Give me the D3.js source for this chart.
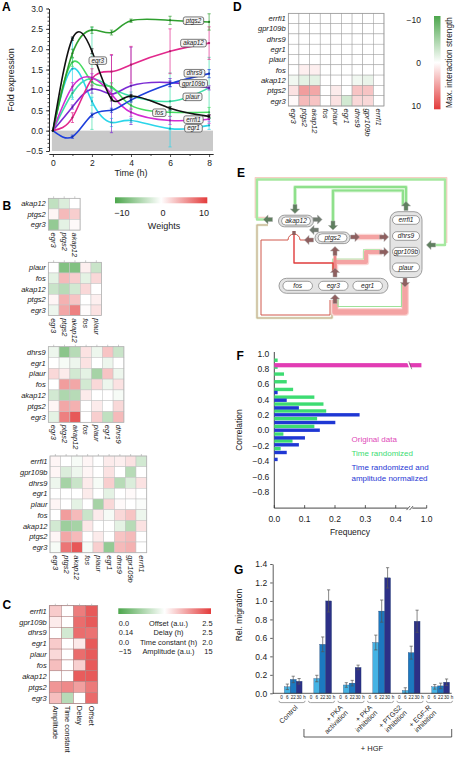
<!DOCTYPE html>
<html><head><meta charset="utf-8">
<script src="https://cdn.jsdelivr.net/npm/d3@7"></script>
<style>
body{margin:0;background:#fff}
text{font-family:"Liberation Sans",Arial,Helvetica,sans-serif;fill:#1a1a1a}
</style>
</head><body>
<svg id="fig" width="456" height="761" xmlns="http://www.w3.org/2000/svg"></svg>
<script>
// ================= DATA =================
// Panel A: fold expression time courses
const timesA = [0,1,2,3,4,6,8];
const genesA = ["egr3","ptgs2","akap12","dhrs9","gpr109b","plaur","errfi1","fos","egr1"];
const colorsA = ["#111111","#2f9f2f","#e2288c","#1d3fdc","#7b2bd4","#3fe0aa","#46dc62","#d22cd2","#2bd5ea"];
const egr3A    = [0,2.26,1.95,0.78,0.85,0.55,0.35];
const ptgs2A   = [0,1.90,2.47,2.41,2.70,2.71,2.67];
const akap12A  = [0,0.32,1.27,1.45,1.62,1.95,2.15];
const dhrs9A   = [0,-0.15,0.38,0.50,0.75,1.15,1.40];
const gpr109bA = [0,0.58,1.02,0.90,1.10,1.18,1.05];
const plaurA   = [0,0.92,1.28,1.05,0.85,0.72,1.05];
const errfi1A  = [0,1.68,1.20,1.08,0.62,0.45,0.45];
const fosA     = [0,1.08,1.30,0.90,0.45,0.25,0.28];
const egr1A    = [0,1.52,0.72,0.20,0.25,0.05,0.13];
const egr3ErrA    = [0,0.04,0.06,0.05,0.04,0.04,0.04];
const ptgs2ErrA   = [0,0.10,0.08,0.06,0.04,0.10,0.20];
const akap12ErrA  = [0,0.12,0.25,0.42,0.45,0.55,0.40];
const dhrs9ErrA   = [0,0.04,0.05,0.05,0.05,0.07,0.10];
const gpr109bErrA = [0,0.05,0.10,0.95,0.95,0.10,0.05];
const plaurErrA   = [0,0.10,1.25,0.10,0.10,0.70,0.75];
const errfi1ErrA  = [0,0.10,0.10,0.10,0.10,0.10,0.12];
const fosErrA     = [0,0.10,0.10,0.10,0.10,0.10,0.10];
const egr1ErrA    = [0,0.75,0.10,0.10,0.05,0.45,0.10];
const labelsA = [["ptgs2",7.2,2.70],["akap12",7.2,2.15],["egr3",2.3,1.72],["dhrs9",7.25,1.41],
                 ["gpr109b",7.2,1.16],["plaur",7.15,0.83],["fos",5.45,0.44],["errfi1",7.2,0.27],["egr1",7.2,0.06]];

// Panel B: weight matrices
const genesB1 = ["egr3","ptgs2","akap12"];
const weightsB1 = [[-3.5,-2,0],[0.5,3.5,2.5],[-6,-1.5,0.3]]; // rows: akap12, ptgs2, egr3
const genesB2 = ["egr3","ptgs2","akap12","fos","plaur"];
const weightsB2 = [[0,-7,-7,0.8,-3],[-1.5,3.5,2.5,-1.5,2],[-3,-4,-2.5,2,0],[0.5,4,3,0,0.8],[-1,4.5,6.5,0.2,1.5]];
const genesB3 = ["egr3","ptgs2","akap12","fos","plaur","egr1","dhrs9"];
const weightsB3 = [[-1,-6.5,-4,1.5,-1,3,-3],[0,-0.5,-1,1.5,0,-1,0],[2,1,-2.5,-1.5,-5,3,-1],
                   [0,5,4.5,-2.5,2,-1,1.5],[-2.5,-4.5,-4,1,0,0,-0.5],[0.5,4.5,4,0,1,0,2],[-1.5,6.5,8.5,0,2.5,-3.5,3.5]];
const genesB4 = ["egr3","ptgs2","akap12","fos","plaur","egr1","dhrs9","gpr109b","errfi1"];
const weightsB4 = [[0.5,0,-0.5,0.5,0,1,0.8,1.5,-2.5],[0.5,-2,-1,0.5,0,1.5,0,-4,0],[-1,-5,-3,1,-0.5,2.5,-4,-2,1.5],
                   [0,0,0,1,0,-1.5,0,0.3,0],[0.5,0,-1.5,0,-5,2,0.3,0,-0.3],[0,5,3.5,-3,1,-0.5,2,3,-1],
                   [-2.5,-5.5,-5,1.2,0,0,-1.5,-4,1.5],[0.5,4.5,3.5,0,1,0,3,3.5,0],[-0.5,7,8.5,-0.5,2.5,-6,3.5,4,0]];
const weightTicks = [-10,0,10];

// Panel C: parameters
const paramsC = ["Amplitude","Time constant","Delay","Offset"];
const paramMinC = [-15,0,0.14,0];
const paramMaxC = [15,2,2.5,2.5];
const paramLegendC = [["0.0","Offset (a.u.)","2.5"],["0.14","Delay (h)","2.5"],["0.0","Time constant (h)","2.0"],["\u221215","Amplitude (a.u.)","15"]];
const amplitudeC = [4,1.5,0,4,3,5,0,8,5];
const timeConstC = [1,1,0.75,1,1,1,1,1.6,0.6];
const delayC = [2.1,2.2,2.2,1.45,2.2,1.6,2.3,1.9,1.32];
const offsetC = [2.3,2.3,2.15,2.3,2.3,2.3,2.3,2.1,2.2];

// Panel D: max interaction strength
const maxInterD = [[0,0,0,0,0,0,0,0,0],[0,0,0,0,0,0,0,0,0],[0,0,0,0,0,0,0,0,0],[0,0,0,0,0,0,0,0,0],
                   [0,0,0,0,0,0,0,0,0],[0,0.8,0.8,0,0,0,0,0,0],[-0.8,-1.5,-1.5,0,0,0,-0.8,-1.2,0],
                   [1.5,5,4.5,0,1,0,3,3,0],[0.3,3.5,3,0,1.5,-2.5,2,2,0]];
const interTicks = [-10,0,10];

// Panel E: network (layout units)
const nodesE = [["akap12",46,46],["ptgs2",82.5,62.8]];
const groupRightE = [["errfi1",156,45],["dhrs9",156,61],["gpr109b",156,76.7],["plaur",156,92.3]];
const groupBottomE = [["fos",47.7,110.8],["egr3",83.3,110.8],["egr1",117.7,110.8]];

// Panel F: correlation histograms
const greenCorrF = [0.91,0.82,0.73,0.63,0.53,0.43,0.34,0.25,0.15,0.05,-0.05,-0.14,-0.24];
const greenFreqF = [0.011,0.011,0.032,0.041,0.062,0.132,0.162,0.171,0.141,0.132,0.030,0.060,0.021];
const blueCorrF = [0.49,0.39,0.29,0.20,0.10,0.00,-0.10,-0.19,-0.29,-0.38];
const blueFreqF = [0.011,0.041,0.081,0.281,0.201,0.150,0.101,0.081,0.041,0.011];
const origCorrF = [0.845];
const origFreqF = [0.98];
const legendF = ["Original data","Time randomized","Time randomized and","amplitude normalized"];

// Panel G: migration
const groupsG = ["Control","HGF","PKA act","PKA inh","PTGS2 inh","EGF-R inh"];
const timesG = ["0","6","22","30"];
const controlG = [0,0.07,0.15,0.13];
const hgfG = [0,0.16,0.53,1.00];
const pkaActG = [0,0.09,0.11,0.28];
const pkaInhG = [0,0.55,0.89,1.25];
const ptgs2InhG = [0,0.03,0.44,0.78];
const egfrInhG = [0,0.07,0.08,0.12];
const controlErrG = [0,0.03,0.035,0.03];
const hgfErrG = [0,0.035,0.08,0.12];
const pkaActErrG = [0,0.025,0.03,0.025];
const pkaInhErrG = [0,0.08,0.12,0.11];
const ptgs2InhErrG = [0,0.03,0.07,0.12];
const egfrInhErrG = [0,0.025,0.03,0.035];
const groupLabelsG = [["Control"],[],["+ PKA","activation"],["+ PKA","inhibition"],["+ PTGS2","inhibition"],["+ EGF-R","inhibition"]];
const yTicksG = [0,0.2,0.4,0.6,0.8,1.0,1.2,1.4];

// ================= DRAWING =================
const svg = d3.select("#fig");
const GREEN = "#4ca64c", RED = "#e33b3b";
function divColor(t){ t=Math.max(-1,Math.min(1,t)); return t>=0? d3.interpolateRgb("#ffffff",RED)(t) : d3.interpolateRgb("#ffffff",GREEN)(-t); }
function letter(t,x,y){ svg.append("text").attr("x",x).attr("y",y).attr("font-size",12).attr("font-weight","bold").style("fill","#000").text(t); }
letter("A",2,10.5); letter("B",2.5,209.5); letter("C",2.5,608.5); letter("D",233,10.5);
letter("E",237,177); letter("F",236.5,359.5); letter("G",234,573.5);

const defs = svg.append("defs");
function gradient(id, vertical, reverse){
  const g = defs.append("linearGradient").attr("id",id).attr("x1","0").attr("y1","0").attr("x2",vertical?"0":"1").attr("y2",vertical?"1":"0");
  const stops = reverse? [RED,"#ffffff",GREEN] : [GREEN,"#ffffff",RED];
  stops.forEach((c,i)=> g.append("stop").attr("offset",(i*50)+"%").attr("stop-color",c));
}
gradient("gh",false,false); gradient("gv",true,false);

// ---------- Panel A ----------
(function(){
  const g = svg.append("g");
  const x = d3.scaleLinear().domain([-0.2,8.2]).range([49,213]);
  const y = d3.scaleLinear().domain([-0.5,3.0]).range([151,8.5]);
  g.append("rect").attr("x",x(0)-1).attr("y",y(0)).attr("width",x(8.2)-x(0)+1).attr("height",y(-0.5)-y(0)).attr("fill","#c9c9c9");
  const ya = g.append("g").attr("transform",`translate(${x(-0.2)},0)`)
    .call(d3.axisLeft(y).tickValues(d3.range(-0.5,3.01,0.5)).tickSize(3).tickSizeOuter(0).tickFormat(d3.format(".1f")));
  g.append("g").attr("transform",`translate(${x(-0.2)},0)`)
    .call(d3.axisLeft(y).tickValues(d3.range(-0.5,3.01,0.1)).tickSize(1.5).tickSizeOuter(0).tickFormat(""));
  const xa = g.append("g").attr("transform",`translate(0,${y(-0.5)+3})`)
    .call(d3.axisBottom(x).tickValues([0,2,4,6,8]).tickSize(3).tickSizeOuter(0));
  g.append("g").attr("transform",`translate(0,${y(-0.5)+3})`)
    .call(d3.axisBottom(x).tickValues([1,3,5,7]).tickSize(2).tickSizeOuter(0).tickFormat(""));
  g.selectAll(".tick text").attr("font-size",8.5);
  g.selectAll(".domain,.tick line").attr("stroke","#222").attr("stroke-width",0.8);
  g.append("text").attr("transform",`translate(14,80) rotate(-90)`).attr("text-anchor","middle").attr("font-size",9).text("Fold expression");
  g.append("text").attr("x",131).attr("y",176).attr("text-anchor","middle").attr("font-size",9).text("Time (h)");

  const vals = [egr3A,ptgs2A,akap12A,dhrs9A,gpr109bA,plaurA,errfi1A,fosA,egr1A];
  const errs = [egr3ErrA,ptgs2ErrA,akap12ErrA,dhrs9ErrA,gpr109bErrA,plaurErrA,errfi1ErrA,fosErrA,egr1ErrA];
  const line = d3.line().x(d=>x(d[0])).y(d=>y(d[1])).curve(d3.curveNatural);
  // error bars
  const order = [5,8,4,6,2,7,3,1,0];
  order.forEach(k=>{
    const c = colorsA[k];
    timesA.forEach((t,i)=>{
      const e = errs[k][i]; if(!e) return;
      const v = vals[k][i];
      g.append("line").attr("x1",x(t)).attr("x2",x(t)).attr("y1",y(v-e)).attr("y2",y(v+e)).attr("stroke",c).attr("stroke-width",0.9).attr("opacity",0.75);
      [v-e,v+e].forEach(b=> g.append("line").attr("x1",x(t)-1.6).attr("x2",x(t)+1.6).attr("y1",y(b)).attr("y2",y(b)).attr("stroke",c).attr("stroke-width",0.9).attr("opacity",0.75));
    });
  });
  order.forEach(k=>{
    g.append("path").attr("d",line(timesA.map((t,i)=>[t,vals[k][i]]))).attr("fill","none").attr("stroke",colorsA[k]).attr("stroke-width",1.6);
    timesA.forEach((t,i)=> g.append("circle").attr("cx",x(t)).attr("cy",y(vals[k][i])).attr("r",1.1).attr("fill",d3.color(colorsA[k]).darker(0.8)));
  });
  // labels
  labelsA.forEach(([name,t,v])=>{
    const lg = g.append("g");
    const tx = lg.append("text").attr("x",x(t)).attr("y",y(v)).attr("dy","0.35em").attr("text-anchor","middle").attr("font-size",6.3).attr("font-style","italic").text(name);
    const w = tx.node().getComputedTextLength()+5;
    lg.insert("rect","text").attr("x",x(t)-w/2).attr("y",y(v)-3.8).attr("width",w).attr("height",7.6).attr("rx",2).attr("fill","#f3f3f3").attr("stroke","#444").attr("stroke-width",0.7);
  });
})();

// ---------- heatmap helper ----------
function heatmap(rows, cols, colorAt, o){
  const g = svg.append("g");
  const x = d3.scaleBand().domain(cols).range([o.x0,o.x0+cols.length*o.cw]);
  const y = d3.scaleBand().domain(rows).range([o.y0,o.y0+rows.length*o.ch]);
  rows.forEach((r,i)=>cols.forEach((c,j)=>{
    g.append("rect").attr("x",x(c)).attr("y",y(r)).attr("width",x.bandwidth()).attr("height",y.bandwidth())
      .attr("fill",colorAt(i,j)).attr("stroke",o.stroke||"#c4c4c4").attr("stroke-width",0.5);
  }));
  g.append("rect").attr("x",o.x0).attr("y",o.y0).attr("width",cols.length*o.cw).attr("height",rows.length*o.ch).attr("fill","none").attr("stroke",o.border||"#b0b0b0").attr("stroke-width",0.7);
  if(o.ticks) cols.forEach(c=> g.append("line").attr("x1",x(c)+x.bandwidth()/2).attr("x2",x(c)+x.bandwidth()/2).attr("y1",o.y0).attr("y2",o.y0-2).attr("stroke","#aaa").attr("stroke-width",0.6));
  rows.forEach(r=> g.append("text").attr("x",o.x0-2.5).attr("y",y(r)+y.bandwidth()/2).attr("dy","0.35em").attr("text-anchor","end")
     .attr("font-size",o.fs).attr("font-style","italic").text(r));
  cols.forEach(c=> g.append("text").attr("transform",`translate(${x(c)+x.bandwidth()/2},${o.y0+rows.length*o.ch+2.5}) rotate(90)`)
     .attr("dy","0.35em").attr("font-size",o.fs).attr("font-style",o.colItalic===false?"normal":"italic").text(c));
  return g;
}

// ---------- Panel B ----------
(function(){
  const mats = [[genesB1,weightsB1,48.3,198.3,10.6],[genesB2,weightsB2,48.3,262.3,10.67],[genesB3,weightsB3,48.3,346.7,10.8],[genesB4,weightsB4,50,456,10.75]];
  mats.forEach(([genes,w,x0,y0,cs])=>{
    const rows = genes.slice().reverse();
    heatmap(rows, genes, (i,j)=>divColor(w[i][j]/10), {x0,y0,cw:cs,ch:cs,fs:7.5,ticks:true});
  });
  const s = d3.scaleLinear().domain([-10,10]).range([122,204]);
  svg.append("rect").attr("x",115).attr("y",197.3).attr("width",92.3).attr("height",6).attr("fill","url(#gh)");
  weightTicks.forEach(t=> svg.append("text").attr("x",s(t)).attr("y",216).attr("text-anchor","middle").attr("font-size",9).text(d3.format("d")(t).replace("-","\u2212")));
  svg.append("text").attr("x",164).attr("y",229).attr("text-anchor","middle").attr("font-size",9).text("Weights");
})();

// ---------- Panel C ----------
(function(){
  const rows = genesB4.slice().reverse();
  const cols = [amplitudeC,timeConstC,delayC,offsetC];
  heatmap(rows, paramsC, (i,j)=>{
    const v = cols[j][i]; const mid=(paramMinC[j]+paramMaxC[j])/2; const half=(paramMaxC[j]-paramMinC[j])/2;
    return divColor((v-mid)/half);
  }, {x0:49.3,y0:605.7,cw:12.1,ch:10.85,fs:7.5,ticks:true,colItalic:false,stroke:"#b08080",border:"#a88"});
  svg.append("rect").attr("x",118.3).attr("y",608.3).attr("width",92.7).attr("height",5.7).attr("fill","url(#gh)");
  const ys = d3.scaleBand().domain(paramLegendC.map(d=>d[1])).range([618.5,656.5]);
  paramLegendC.forEach(([a,b,c])=>{
    const yy = ys(b)+ys.bandwidth()/2;
    svg.append("text").attr("x",118.8).attr("y",yy).attr("dy","0.35em").attr("font-size",7.4).text(a);
    svg.append("text").attr("x",168.5).attr("y",yy).attr("dy","0.35em").attr("text-anchor","middle").attr("font-size",7.4).text(b);
    svg.append("text").attr("x",212.5).attr("y",yy).attr("dy","0.35em").attr("text-anchor","end").attr("font-size",7.4).text(c);
  });
})();

// ---------- Panel D ----------
(function(){
  const rows = genesB4.slice().reverse();
  heatmap(rows, genesB4, (i,j)=>divColor(maxInterD[i][j]/10), {x0:288.3,y0:13.3,cw:10.63,ch:10.3,fs:7.6,stroke:"#a0a0a0",border:"#999"});
  svg.append("rect").attr("x",434).attr("y",16).attr("width",6.5).attr("height",93.3).attr("fill","url(#gv)");
  const s = d3.scaleLinear().domain([-10,10]).range([20.5,106.5]);
  interTicks.forEach(t=> svg.append("text").attr("x",421).attr("y",s(t)).attr("dy","0.35em").attr("text-anchor","end").attr("font-size",8.5).text(d3.format("d")(t).replace("-","\u2212")));
  svg.append("text").attr("transform","translate(452,62.5) rotate(-90)").attr("text-anchor","middle").attr("font-size",8.3).text("Max. interaction strength");
})();

// ---------- Panel E ----------
(function(){
  const g = svg.append("g");
  const x = d3.scaleLinear().domain([0,200]).range([250,450]);
  const y = d3.scaleLinear().domain([0,150]).range([175,325]);
  const ln = d3.line().x(d=>x(d[0])).y(d=>y(d[1]));
  function path(pts, stroke, w, op){ g.append("path").attr("d",ln(pts)).attr("fill","none").attr("stroke",stroke).attr("stroke-width",w).attr("stroke-linejoin","round").attr("opacity",op||1); }
  // pale outer loops
  path([[20,42.5],[5.3,42.5],[5.3,2.8],[196.7,2.8],[196.7,68]],"#f5cfc4",1.4);
  path([[18,44.5],[7,44.5],[7,4.5],[195,4.5],[195,70],[182,70]],"#a6e8a0",2.4);
  path([[18,50],[7,50],[7,143],[82,143],[82,126]],"#dfe9c8",2.6);
  path([[18,50],[7,50],[7,143],[82,143],[82,126]],"#c9a98f",1.0);
  // green from errfi1
  path([[156,30],[156,12],[45,12],[45,33]],"#d9f5d6",4);
  path([[156,30],[156,12],[45,12],[45,33]],"#8fe08c",2.2);
  path([[153,30],[153,15.5],[83,15.5],[83,50]],"#d9f5d6",4);
  path([[153,30],[153,15.5],[83,15.5],[83,50]],"#8fe08c",2.2);
  // thick pink
  path([[155,108],[155,137],[85,137],[85,125]],"#fbd6d4",8);
  path([[155,108],[155,137],[85,137],[85,125]],"#f4a3a3",5.5);
  path([[88,124],[88,131.5],[151.5,131.5],[151.5,108]],"#9ee29a",1.2);
  path([[106,62],[132,62]],"#fbd6d4",6.5);
  path([[106,62],[132,62]],"#f4a3a3",4);
  path([[85,97],[85,87],[116,87],[116,77],[132,77]],"#fbd6d4",6.5);
  path([[85,97],[85,87],[116,87],[116,77],[132,77]],"#f4a3a3",4);
  path([[82.5,95],[82.5,84],[113.5,84],[113.5,74.5],[130,74.5]],"#b8e8b0",1.1);
  path([[85,96],[85,78]],"#f08a8a",3);
  // red thin lines
  path([[44,58],[44,88],[83,88],[83,97]],"#e03c3c",1.4);
  g.append("path").attr("d",`M${x(59)},${y(65)} L${x(50)},${y(65)} A${x(6)-x(0)},${y(6)-y(0)} 0 0 0 ${x(38)},${y(65)} L${x(11)},${y(65)} L${x(11)},${y(140)} L${x(80)},${y(140)} L${x(80)},${y(125)}`)
    .attr("fill","none").attr("stroke","#d0584c").attr("stroke-width",1);
  // nodes
  function pill(cx,cy,w,h,label){
    g.append("rect").attr("x",x(cx-w/2)).attr("y",y(cy-h/2)).attr("width",x(w)-x(0)).attr("height",y(h)-y(0)).attr("rx",(y(h)-y(0))/2).attr("fill","#fff").attr("stroke","#777").attr("stroke-width",0.7);
    g.append("text").attr("x",x(cx)).attr("y",y(cy)).attr("dy","0.35em").attr("text-anchor","middle").attr("font-size",6.6).attr("font-style","italic").text(label);
  }
  function box(x0,y0,x1,y1,r){
    g.append("rect").attr("x",x(x0)).attr("y",y(y0)).attr("width",x(x1)-x(x0)).attr("height",y(y1)-y(y0)).attr("rx",r).attr("fill","#e4e4e4").attr("stroke","#888").attr("stroke-width",0.8);
  }
  nodesE.forEach(([n,cx,cy])=>{ box(cx-17.5,cy-5.8,cx+17.5,cy+5.8,5.8); pill(cx,cy,29,8,n); });
  box(140,36.7,172,102.5,8); groupRightE.forEach(([n,cx,cy])=>pill(cx,cy,27,8.6,n));
  box(29,103.3,138,118.3,7.5); groupBottomE.forEach(([n,cx,cy])=>pill(cx,cy,29.5,9,n));
  // arrows
  const arrowsE = [[45,34,"down","g"],[83,50.5,"down","g"],[156,31,"up","g"],[18,44.5,"left","g"],[67.5,44.5,"right","gg"],
                   [59,65,"left","r"],[105,62,"right","r"],[134,62,"right","r"],[134,77,"right","r"],[181,70,"left","g"],
                   [155,107.5,"down","r"],[85,97.5,"up","r"],[85,76,"up","r"],[85,124,"up","r"],[64,55,"left","gg"]];
  const fills = {g:"#5f7f5f",gg:"#707a70",r:"#8e5f5f"};
  const rot = {right:0,down:90,left:180,up:270};
  arrowsE.forEach(([ax,ay,dir,c])=>{
    g.append("path").attr("d","M-4.5,-2 L0,-2 L0,-4.6 L4.6,0 L0,4.6 L0,2 L-4.5,2 Z")
      .attr("transform",`translate(${x(ax)},${y(ay)}) rotate(${rot[dir]})`).attr("fill",fills[c]).attr("stroke","#aaa").attr("stroke-width",0.5);
  });
  g.append("rect").attr("x",x(42.3)).attr("y",y(56)).attr("width",3.4).attr("height",4).attr("fill","#8e5f5f");
})();

// ---------- Panel F ----------
(function(){
  const g = svg.append("g");
  const y = d3.scaleLinear().domain([-1,1]).range([507.1,353.3]);
  const x = d3.scaleLinear().domain([0,0.45,0.95,1.0]).range([274.3,410.9,413.5,426.7]);
  const x0 = x(0);
  g.append("g").attr("transform",`translate(${x0},0)`).call(d3.axisLeft(y).tickValues(d3.range(-0.8,1.01,0.2)).tickSize(0).tickPadding(5).tickFormat(d=>d3.format(".1f")(Math.abs(d)<1e-9?0:d)))
    .call(a=>a.select(".domain").remove());
  g.append("line").attr("x1",x0).attr("x2",x0).attr("y1",352).attr("y2",y(-1)+1).attr("stroke","#333").attr("stroke-width",0.9);
  g.append("line").attr("x1",x0).attr("x2",407.8).attr("y1",y(-1)+1).attr("y2",y(-1)+1).attr("stroke","#333").attr("stroke-width",0.9);
  g.append("line").attr("x1",412.3).attr("x2",x(1.0)).attr("y1",y(-1)+1).attr("y2",y(-1)+1).attr("stroke","#333").attr("stroke-width",0.9);
  [[406.5,410],[409.5,413]].forEach(([a,b])=> g.append("line").attr("x1",a).attr("x2",b).attr("y1",y(-1)+3).attr("y2",y(-1)-1).attr("stroke","#333").attr("stroke-width",0.8));
  [0,0.1,0.2,0.3,0.4,1.0].forEach(t=>{
    g.append("line").attr("x1",x(t)).attr("x2",x(t)).attr("y1",y(-1)+1).attr("y2",y(-1)-2).attr("stroke","#333").attr("stroke-width",0.8);
    g.append("text").attr("x",x(t)).attr("y",y(-1)+15).attr("text-anchor","middle").attr("font-size",8.5).text(d3.format(".1f")(t));
  });
  g.selectAll(".tick text").attr("font-size",8.5);
  g.append("text").attr("transform","translate(241.7,430) rotate(-90)").attr("text-anchor","middle").attr("font-size",8.5).text("Correlation");
  g.append("text").attr("x",350).attr("y",535).attr("text-anchor","middle").attr("font-size",8.5).text("Frequency");
  const bh = 3.4;
  greenCorrF.forEach((c,i)=> g.append("rect").attr("x",x0).attr("y",y(c)-bh/2).attr("width",x(greenFreqF[i])-x0).attr("height",bh).attr("fill","#3ddc72"));
  blueCorrF.forEach((c,i)=> g.append("rect").attr("x",x0).attr("y",y(c)-bh/2).attr("width",x(blueFreqF[i])-x0).attr("height",bh).attr("fill","#1f37d4"));
  origCorrF.forEach((c,i)=>{
    g.append("rect").attr("x",x0).attr("y",y(c)-2.1).attr("width",x(origFreqF[i])-x0).attr("height",4.2).attr("fill","#e23cb4");
    g.append("line").attr("x1",407.5).attr("x2",410.5).attr("y1",y(c)-4).attr("y2",y(c)+4).attr("stroke","#fff").attr("stroke-width",1.6);
    g.append("line").attr("x1",408.8).attr("x2",411.8).attr("y1",y(c)-4).attr("y2",y(c)+4).attr("stroke","#555").attr("stroke-width",0.6);
  });
  const lc = ["#e04ab8","#3ddc72","#1f37d4","#1f37d4"];
  const ly = [439.5,453.3,466.8,478.3];
  legendF.forEach((t,i)=> g.append("text").attr("x",351.5).attr("y",ly[i]).attr("dy","0.35em").attr("font-size",8).style("fill",lc[i]).text(t));
})();

// ---------- Panel G ----------
(function(){
  const g = svg.append("g");
  const vals = [controlG,hgfG,pkaActG,pkaInhG,ptgs2InhG,egfrInhG];
  const errs = [controlErrG,hgfErrG,pkaActErrG,pkaInhErrG,ptgs2InhErrG,egfrInhErrG];
  const x = d3.scaleBand().domain(groupsG).range([277,451]).paddingInner(0.2).paddingOuter(0.05);
  const xs = d3.scaleBand().domain(timesG).range([0,x.bandwidth()]);
  const y = d3.scaleLinear().domain([0,1.4]).range([693.3,564]);
  const col = ["#9fd8f0","#45b3e4","#1c79c0","#2c3087"];
  g.append("g").attr("transform","translate(272.7,0)").call(d3.axisLeft(y).tickValues(yTicksG).tickSize(2.5).tickSizeOuter(0).tickFormat(d3.format(".1f")))
    .call(a=>{a.selectAll("text").attr("font-size",8.5); a.selectAll("line,.domain").attr("stroke","#333").attr("stroke-width",0.8);});
  g.append("text").attr("transform","translate(241.7,615) rotate(-90)").attr("text-anchor","middle").attr("font-size",8.5).text("Rel. migration");
  groupsG.forEach((gr,k)=>{
    timesG.forEach((t,i)=>{
      const v = vals[k][i]; const bx = x(gr)+xs(t);
      if(v>0) g.append("rect").attr("x",bx).attr("y",y(v)).attr("width",xs.bandwidth()).attr("height",y(0)-y(v)).attr("fill",col[i]).attr("stroke","#1a3a6a").attr("stroke-width",0.3);
      const e = errs[k][i];
      if(e>0){
        const cx = bx+xs.bandwidth()/2;
        g.append("line").attr("x1",cx).attr("x2",cx).attr("y1",y(v-e)).attr("y2",y(v+e)).attr("stroke","#555").attr("stroke-width",0.7);
        [v-e,v+e].forEach(b=> g.append("line").attr("x1",cx-1.6).attr("x2",cx+1.6).attr("y1",y(b)).attr("y2",y(b)).attr("stroke","#555").attr("stroke-width",0.7));
      }
      g.append("text").attr("x",x(gr)+xs(t)+xs.bandwidth()/2).attr("y",699).attr("text-anchor","middle").attr("font-size",4.6).text(t);
    });
    g.append("text").attr("x",x(gr)+x.bandwidth()+1.2).attr("y",699).attr("font-size",4.6).text("h");
    const b0 = x(gr)+0.5, b1 = x(gr)+x.bandwidth()+3;
    g.append("path").attr("d",`M${b0},${700.8} Q${b0},${702.6} ${b0+2},${702.6} L${b1-2},${702.6} Q${b1},${702.6} ${b1},${700.8}`).attr("fill","none").attr("stroke","#999").attr("stroke-width",0.9);
    const lab = groupLabelsG[k];
    if(lab.length){
      const ex = lab.length===1 ? x(gr)+x.bandwidth()-4 : x(gr)+x.bandwidth()-18;
      const t = g.append("text").attr("transform",`translate(${ex},708) rotate(-45)`).attr("text-anchor","end").attr("font-size",7);
      lab.forEach((s,i)=> t.append("tspan").attr("x",0).attr("dy",i?7.4:0).text(s));
    }
  });
  g.append("line").attr("x1",272.7).attr("x2",451.7).attr("y1",y(0)).attr("y2",y(0)).attr("stroke","#333").attr("stroke-width",0.8);
  const h0 = x("HGF")-4, h1 = 451.7;
  g.append("path").attr("d",`M${h0},729 L${h0},737 L${h1},737 L${h1},729`).attr("fill","none").attr("stroke","#333").attr("stroke-width",0.8);
  g.append("text").attr("x",372).attr("y",751).attr("text-anchor","middle").attr("font-size",7.5).text("+ HGF");
})();
</script>
</body></html>
